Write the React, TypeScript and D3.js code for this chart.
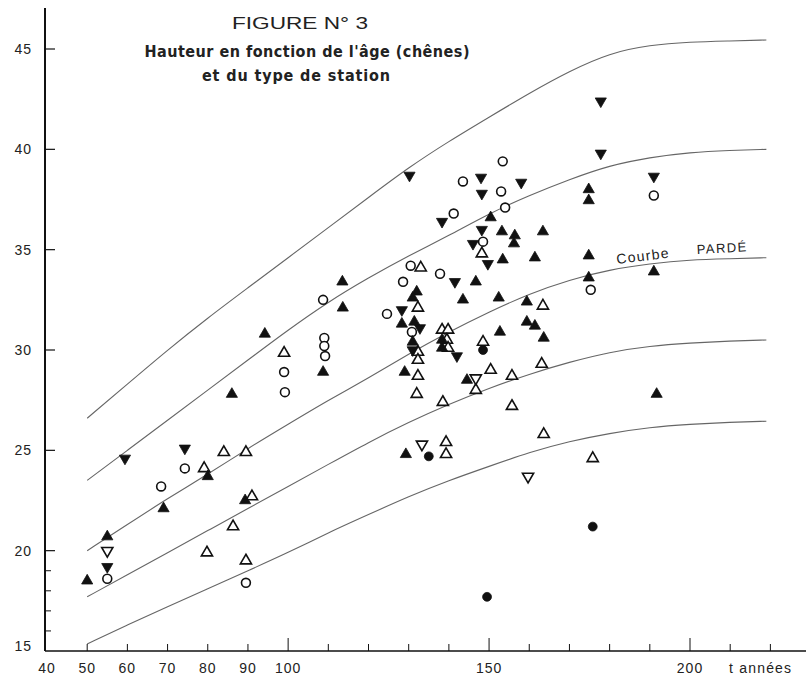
import * as d3 from "d3";

// ages (années) vs height (m)
const curveAges = [50, 60, 70, 80, 90, 100, 110, 120, 130, 140, 150, 160, 170, 180, 190, 200, 210, 219];
const curveTop = [26.6, 28.3, 30.0, 31.6, 33.1, 34.6, 36.1, 37.6, 39.1, 40.4, 41.6, 42.8, 43.9, 44.8, 45.2, 45.35, 45.4, 45.45];
const curveSecond = [23.5, 25.0, 26.5, 28.0, 29.5, 31.0, 32.4, 33.6, 34.7, 35.7, 36.8, 37.7, 38.5, 39.2, 39.6, 39.85, 39.95, 40.0];
const curveParde = [20.0, 21.3, 22.6, 23.8, 25.1, 26.3, 27.5, 28.6, 29.8, 30.9, 31.9, 32.8, 33.5, 34.0, 34.3, 34.5, 34.55, 34.6];
const curveFourth = [17.7, 18.8, 19.9, 21.0, 22.1, 23.2, 24.3, 25.4, 26.4, 27.3, 28.1, 28.8, 29.4, 29.9, 30.2, 30.35, 30.45, 30.5];
const curveBottom = [15.35, 16.3, 17.2, 18.1, 19.0, 19.9, 20.9, 21.8, 22.7, 23.5, 24.2, 24.9, 25.45, 25.85, 26.15, 26.3, 26.4, 26.45];

const triUpFilled: [number, number][] = [
  [50, 18.5], [55, 20.7], [69, 22.1], [80, 23.7], [86, 27.8], [89.3, 22.5], [94.2, 30.8],
  [108.7, 28.9], [113.5, 33.4], [113.6, 32.1], [132, 32.9], [131, 32.6], [128.3, 31.3],
  [131.4, 31.4], [131, 30.4], [129, 28.9], [129.3, 24.8], [138.3, 30.5], [138.3, 30.1],
  [144.5, 28.5], [150.4, 36.6], [153.2, 35.9], [156.4, 35.7], [156.2, 35.3], [163.4, 35.9],
  [153.4, 34.5], [161.4, 34.6], [146.7, 33.4], [143.5, 32.5], [152.4, 32.6], [159.4, 32.4],
  [159.4, 31.4], [161.4, 31.2], [163.6, 30.6], [152.7, 30.9], [174.8, 38.0], [174.8, 37.45],
  [174.8, 34.7], [174.8, 33.6], [191, 33.9], [191.7, 27.8],
];
const triUpOpen: [number, number][] = [
  [79.1, 24.1], [79.8, 19.9], [84, 24.9], [86.3, 21.2], [89.5, 24.9], [91, 22.7], [89.5, 19.5],
  [99, 29.85], [133, 34.1], [132.3, 32.1], [132.3, 29.9], [132.3, 29.5], [132.3, 28.7],
  [132, 27.8], [138.3, 31.0], [139.8, 31.0], [139.5, 30.5], [139.8, 30.1], [148.2, 34.8],
  [148.5, 30.4], [150.4, 29.0], [155.7, 28.7], [163.1, 29.3], [163.4, 32.2], [146.7, 28.0],
  [138.5, 27.4], [155.7, 27.2], [163.6, 25.8], [139.3, 25.4], [139.3, 24.8], [175.8, 24.6],
];
const triDownFilled: [number, number][] = [
  [55, 19.2], [59.4, 24.6], [74.3, 25.1], [130.2, 38.7], [128.3, 32.0], [132.8, 31.1],
  [131, 30.0], [141.5, 33.4], [142, 29.7], [138.3, 36.4], [148, 38.6], [148.2, 37.8],
  [158, 38.35], [148.2, 36.0], [146, 35.3], [149.7, 34.3], [177.8, 42.4], [177.8, 39.8],
  [191, 38.65],
];
const triDownOpen: [number, number][] = [
  [55, 20.0], [133.3, 25.3], [146.7, 28.6], [159.7, 23.7],
];
const circleOpen: [number, number][] = [
  [55, 18.6], [68.4, 23.2], [74.3, 24.1], [89.5, 18.4], [99, 28.9], [99.2, 27.9], [109, 30.6],
  [109, 30.2], [109.2, 29.7], [108.7, 32.5], [124.6, 31.8], [128.6, 33.4], [130.5, 34.2],
  [130.8, 30.9], [137.8, 33.8], [143.5, 38.4], [141.2, 36.8], [153.4, 39.4], [153, 37.9],
  [154, 37.1], [148.5, 35.4], [175.3, 33.0], [191, 37.7],
];
const circleFilled: [number, number][] = [
  [135, 24.7], [148.5, 30.0], [149.5, 17.7], [175.8, 21.2],
];

const xLabels = [40, 50, 60, 70, 80, 90, 100, 150, 200];
const xTicks = [50, 60, 70, 80, 90, 100, 110, 120, 130, 140, 150, 160, 170, 180, 190, 200, 210, 220];
const xMajor = [100, 150, 200];
const yLabels = [15, 20, 25, 30, 35, 40, 45];
const yMinor = [16, 17, 18, 19];

const W = 806;
const H = 675;
const font = "'Liberation Sans', Arial, sans-serif";
const narrow = "'Liberation Sans Narrow', 'DejaVu Sans Condensed', 'Liberation Sans', sans-serif";

export default function App() {
  const x = d3.scaleLinear().domain([40, 200]).range([47, 690]);
  const y = d3.scaleLinear().domain([15, 45]).range([651, 49]);

  const line = d3
    .line<[number, number]>()
    .x((d) => x(d[0]))
    .y((d) => y(d[1]))
    .curve(d3.curveBasis);

  const curves = [curveTop, curveSecond, curveParde, curveFourth, curveBottom].map((vals) =>
    line(curveAges.map((a, i) => [a, vals[i]] as [number, number]))
  );

  const tri = d3.symbol().type(d3.symbolTriangle).size(54)() ?? "";
  const circ = d3.symbol().type(d3.symbolCircle).size(62)() ?? "";

  const marks = (pts: [number, number][], path: string, filled: boolean, flip: boolean, key: string) =>
    pts.map((p, i) => (
      <path
        key={key + i}
        d={path}
        transform={`translate(${x(p[0])},${y(p[1])})${flip ? " rotate(180)" : ""}`}
        fill={filled ? "#111" : "#fff"}
        stroke="#111"
        strokeWidth={filled ? 0.8 : 1.6}
      />
    ));

  const x0 = x(40) - 2;
  const yBase = y(15);

  return (
    <svg width={W} height={H} style={{ position: "absolute", left: 0, top: 0, background: "#fff" }}>
      {/* title */}
      <text x={300} y={29} textAnchor="middle" fontFamily={font} fontSize={17} textLength={136} lengthAdjust="spacingAndGlyphs" fill="#222">
        FIGURE N° 3
      </text>
      <text x={307} y={57} textAnchor="middle" fontFamily={narrow} fontWeight="bold" fontSize={16} textLength={325} lengthAdjust="spacing" fill="#222">
        Hauteur en fonction de l'âge (chênes)
      </text>
      <text x={296} y={81} textAnchor="middle" fontFamily={narrow} fontWeight="bold" fontSize={16} textLength={188} lengthAdjust="spacing" fill="#222">
        et du type de station
      </text>

      {/* curves */}
      {curves.map((d, i) => (
        <path key={i} d={d ?? ""} fill="none" stroke="#666" strokeWidth={1.1} />
      ))}

      <text transform="translate(617,264) rotate(-7)" fontFamily={font} fontSize={14} letterSpacing={1.3} fill="#222">
        Courbe
      </text>
      <text transform="translate(697,254) rotate(-3)" fontFamily={font} fontSize={13} letterSpacing={1.4} fill="#222">
        PARDÉ
      </text>

      {/* axes */}
      <line x1={x0} x2={x0} y1={8} y2={yBase} stroke="#111" strokeWidth={2} />
      <line x1={x0} x2={W} y1={yBase} y2={yBase} stroke="#111" strokeWidth={1.6} />

      {yLabels.map((v) => (
        <g key={"yl" + v}>
          {v > 15 && <line x1={x0} x2={x0 + 10} y1={y(v)} y2={y(v)} stroke="#111" strokeWidth={1.2} />}
          <text x={32} y={y(v) + (v === 15 ? 0 : 5)} textAnchor="end" fontFamily={font} fontSize={14} letterSpacing={1} fill="#222">
            {v}
          </text>
        </g>
      ))}
      {yMinor.map((v) => (
        <line key={"ym" + v} x1={x0} x2={x0 + 6} y1={y(v)} y2={y(v)} stroke="#111" strokeWidth={1} />
      ))}

      {xTicks.map((v) => (
        <line
          key={"xt" + v}
          x1={x(v)}
          x2={x(v)}
          y1={yBase}
          y2={yBase - (xMajor.includes(v) ? 13 : 7)}
          stroke="#111"
          strokeWidth={1}
        />
      ))}
      {xLabels.map((v) => (
        <text key={"xl" + v} x={x(v)} y={673} textAnchor="middle" fontFamily={font} fontSize={14} letterSpacing={1} fill="#222">
          {v}
        </text>
      ))}
      <text x={729} y={673} fontFamily={font} fontSize={14} letterSpacing={1.2} fill="#222">
        t années
      </text>

      {/* points */}
      {marks(triUpOpen, tri, false, false, "uo")}
      {marks(triDownOpen, tri, false, true, "do")}
      {marks(circleOpen, circ, false, false, "co")}
      {marks(triUpFilled, tri, true, false, "uf")}
      {marks(triDownFilled, tri, true, true, "df")}
      {marks(circleFilled, circ, true, false, "cf")}
    </svg>
  );
}
